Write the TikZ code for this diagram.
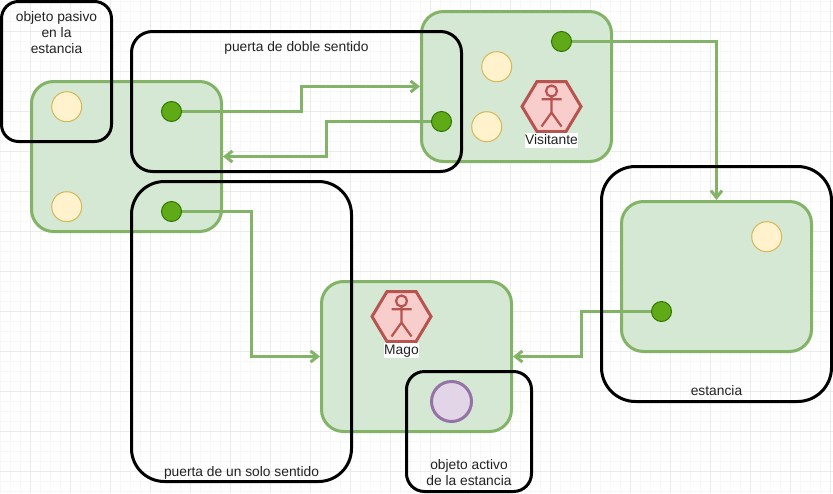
\documentclass[tikz,border=0pt]{standalone}
\usepackage{fontspec}
\setmainfont{Liberation Sans}
\usetikzlibrary{shapes,positioning,arrows.meta}
\definecolor{salafill}{HTML}{D5E8D4}
\definecolor{salaline}{HTML}{82B366}
\definecolor{pasivofill}{HTML}{FFF2CC}
\definecolor{pasivoline}{HTML}{D6B656}
\definecolor{puertafill}{HTML}{60A917}
\definecolor{puertaline}{HTML}{2D7600}
\definecolor{actorfill}{HTML}{F8CECC}
\definecolor{actorline}{HTML}{B85450}
\definecolor{activofill}{HTML}{E1D5E7}
\definecolor{activoline}{HTML}{9673A6}
\definecolor{texto}{HTML}{222222}
\tikzset{
sala/.style={
	draw=salaline, fill=salafill, line width=3pt, rounded corners=22pt,
	minimum width=190pt, minimum height=150pt, inner sep=0pt},
zona/.style={
	draw=black, line width=3pt, inner sep=0pt},
pasivo/.style={
	circle, draw=pasivoline, fill=pasivofill, line width=1pt,
	minimum size=30pt, inner sep=0pt},
puerta/.style={
	circle, draw=puertaline, fill=puertafill, line width=1pt,
	minimum size=20pt, inner sep=0pt},
activo/.style={
	circle, draw=activoline, fill=activofill, line width=3pt,
	minimum size=40pt, inner sep=0pt},
hexagono/.style={
	draw=actorline, fill=actorfill, line width=3pt},
figura/.style={draw=actorline, line width=2.2pt},
rotulo/.style={
	fill=white, text=texto, inner sep=0.5pt, text height=11.5pt, text depth=3pt,
	font=\fontsize{13.8}{16}\selectfont},
leyenda/.style={
	text=texto, align=center, inner sep=0pt,
	font=\fontsize{13.8}{16}\selectfont},
linea/.style={text height=10.5pt, text depth=3pt},
conexion/.style={
	draw=salaline, line width=3pt, -{Straight Barb[length=7pt,width=11pt]}},
rejilla/.style={draw=black!3, line width=1pt},
rejillamayor/.style={draw=black!8, line width=1pt}
}
\newcommand{\actor}[3]{
	\begin{scope}[shift={(#2)}]
		\draw[hexagono] (-29.5,0) -- (-14.5,-25) -- (14.5,-25) -- (29.5,0)
			-- (14.5,25) -- (-14.5,25) -- cycle;
		\draw[figura] (0,-15.5) circle (5.5);
		\draw[figura] (0,-10) -- (0,6) (-10,-7.2) -- (10,-7.2)
			(-10,20) -- (0,6) -- (10,20);
		\node[rotulo] (#1) at (0,34) {#3};
	\end{scope}
}

\begin{document}
\begin{tikzpicture}[x=1pt,y=-1pt]
	\useasboundingbox (0,0) rectangle (833,493);
	\fill[white] (0,0) rectangle (833,493);
	% rejilla
	\foreach \x in {0.5,10.5,...,830.5} \draw[rejilla] (\x,0) -- (\x,493);
	\foreach \y in {1.5,11.5,...,491.5} \draw[rejilla] (0,\y) -- (833,\y);
	\foreach \x in {30.5,70.5,...,830.5} \draw[rejillamayor] (\x,0) -- (\x,493);
	\foreach \y in {31.5,71.5,...,471.5} \draw[rejillamayor] (0,\y) -- (833,\y);

	% salas
	\node[sala] (salaA) at (126.5,156.5) {};
	\node[sala] (salaB) at (516.5,86.5) {};
	\node[sala] (salaC) at (416.5,356.5) {};
	\node[sala] (salaD) at (716.5,276.5) {};

	% objetos pasivos
	\node[pasivo] (pasivoA) at (66.7,106.7) {};
	\node[pasivo] (pasivoB) at (66.7,206.7) {};
	\node[pasivo] (pasivoC) at (496.7,66.7) {};
	\node[pasivo] (pasivoD) at (486.7,126.7) {};
	\node[pasivo] (pasivoE) at (766.7,236.7) {};

	% conexiones
	\node[puerta] (puertaA) at (171.5,111.5) {};
	\node[puerta] (puertaB) at (441.5,121.5) {};
	\node[puerta] (puertaC) at (561.5,41.5) {};
	\node[puerta] (puertaD) at (171.5,211.5) {};
	\node[puerta] (puertaE) at (661.5,311.5) {};
	\coordinate (codoA) at (301.5,98);
	\coordinate (codoB) at (326.5,138);
	\coordinate (codoD) at (251.5,280);
	\coordinate (codoE) at (581.5,333);
	\draw[conexion] (puertaA) -| (codoA) |- (salaB);
	\draw[conexion] (puertaB) -| (codoB) |- (salaA);
	\draw[conexion] (puertaC) -| (salaD);
	\draw[conexion] (puertaD) -| (codoD) |- (salaC);
	\draw[conexion] (puertaE) -| (codoE) |- (salaC);

	% actores
	\actor{visitante}{551.5,106.5}{Visitante}
	\actor{mago}{401.5,316.5}{Mago}
	\node[activo] (activo) at (451.5,401.5) {};

	% zonas
	\node[zona, rounded corners=17pt, minimum width=110pt, minimum height=140pt] (zonaPasivo) at (56.5,71.5) {};
	\node[zona, rounded corners=21pt, minimum width=330pt, minimum height=140pt] (zonaDoble) at (296.5,101.5) {};
	\node[zona, rounded corners=33pt, minimum width=220pt, minimum height=300pt] (zonaUnico) at (241.5,331.5) {};
	\node[zona, rounded corners=34pt, minimum width=230pt, minimum height=235pt] (zonaEstancia) at (716.5,284) {};
	\node[zona, rounded corners=18pt, minimum width=125pt, minimum height=120pt] (zonaActivo) at (469,431.5) {};

	\node[leyenda] (leyPasivo) at (56.5,32.5) {objeto pasivo\\en la\\estancia};
	\node[leyenda, linea] (leyDoble) at (296.5,48) {puerta de doble sentido};
	\node[leyenda, linea] (leyUnico) at (241.5,472.5) {puerta de un solo sentido};
	\node[leyenda, linea] (leyEstancia) at (716.5,392) {estancia};
	\node[leyenda] (leyActivo) at (469,473) {objeto activo\\de la estancia};
\end{tikzpicture}
\end{document}
